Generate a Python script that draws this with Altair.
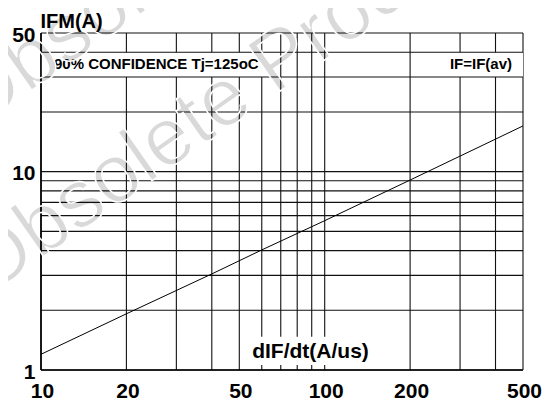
import altair as alt
import pandas as pd

# ---- values ----
DIDT = [10, 20, 40, 60, 100, 200, 500]            # dIF/dt (A/us)
IFM = [1.2, 1.92, 3.05, 4.03, 5.66, 9.07, 17.0]   # IFM (A)

X_GRID = [10, 20, 30, 40, 50, 60, 70, 80, 90, 100, 200, 300, 400, 500]
Y_GRID = [1, 2, 3, 4, 5, 6, 7, 8, 9, 10, 20, 30, 40, 50]
X_TICKS = [10, 20, 50, 100, 200, 500]
Y_TICKS = [1, 10, 50]

X_TITLE = "dIF/dt(A/us)"
Y_TITLE = "IFM(A)"
NOTE_LEFT = "90% CONFIDENCE Tj=125oC"
NOTE_RIGHT = "IF=IF(av)"
WATERMARK = "Obsolete Product"

# ---- annotation placement (data units) ----
BOXES = pd.DataFrame({
    "x1": [10, 265, 52],
    "x2": [68, 500, 150],
    "y1": [30, 30, 1.06],
    "y2": [40, 40, 1.47],
})
NOTE_Y = 34.64
WM = pd.DataFrame({"x": [5.85, 6.45], "y": [16.2, 2.35], "t": [WATERMARK, WATERMARK]})

FONT = "Liberation Sans"

xs = alt.Scale(type="log", domain=[10, 500], nice=False)
ys = alt.Scale(type="log", domain=[1, 50], nice=False)

X_AXIS = alt.Axis(
    values=X_TICKS, format="d", grid=False, domain=False, ticks=False,
    labelFont=FONT, labelFontSize=21, labelFontWeight="bold", labelColor="black",
    labelPadding=10, labelFlush=False, labelOverlap=False, labelOffset=1,
    title=X_TITLE, titleFont=FONT, titleFontSize=21, titleFontWeight="bold",
    titleColor="black", titleX=269, titleY=-13, titleAlign="center",
    titleBaseline="alphabetic", zindex=1,
)
Y_AXIS = alt.Axis(
    values=Y_TICKS, format="d", grid=False, domain=False, ticks=False,
    labelFont=FONT, labelFontSize=21, labelFontWeight="bold", labelColor="black",
    labelPadding=6, labelOverlap=False, labelFlush=False, labelOffset=2,
    title=Y_TITLE, titleFont=FONT, titleFontSize=20, titleFontWeight="bold",
    titleColor="black", titleAngle=0, titleX=-1, titleY=-6, titleAlign="left",
    titleBaseline="alphabetic", zindex=1,
)

df_line = pd.DataFrame({"x": DIDT, "y": IFM})
df_xg = pd.DataFrame({"x": X_GRID})
df_yg = pd.DataFrame({"y": Y_GRID})

vgrid = alt.Chart(df_xg).mark_rule(color="#111111", strokeWidth=1.1).encode(
    x=alt.X("x:Q", scale=xs, axis=X_AXIS))
boxes = alt.Chart(BOXES).mark_rect(color="white").encode(
    x=alt.X("x1:Q", scale=xs, axis=X_AXIS), x2="x2:Q",
    y=alt.Y("y1:Q", scale=ys, axis=Y_AXIS), y2="y2:Q")
hgrid = alt.Chart(df_yg).mark_rule(color="#111111", strokeWidth=1.1).encode(
    y=alt.Y("y:Q", scale=ys, axis=Y_AXIS))
frame_x = alt.Chart(pd.DataFrame({"x": [X_GRID[0]]})).mark_rule(
    color="black", strokeWidth=1.6).encode(x=alt.X("x:Q", scale=xs, axis=X_AXIS))
frame_y = alt.Chart(pd.DataFrame({"y": [Y_GRID[0]]})).mark_rule(
    color="black", strokeWidth=1.6).encode(y=alt.Y("y:Q", scale=ys, axis=Y_AXIS))
line = alt.Chart(df_line).mark_line(color="black", strokeWidth=1).encode(
    x=alt.X("x:Q", scale=xs, axis=X_AXIS), y=alt.Y("y:Q", scale=ys, axis=Y_AXIS))

note_l = alt.Chart(pd.DataFrame({"x": [X_GRID[0]], "y": [NOTE_Y], "t": [NOTE_LEFT]})).mark_text(
    align="left", baseline="alphabetic", dx=13, dy=4, font=FONT, fontSize=15,
    fontWeight="bold", color="black").encode(
    x=alt.X("x:Q", scale=xs, axis=X_AXIS), y=alt.Y("y:Q", scale=ys, axis=Y_AXIS), text="t:N")
note_r = alt.Chart(pd.DataFrame({"x": [X_GRID[-1]], "y": [NOTE_Y], "t": [NOTE_RIGHT]})).mark_text(
    align="right", baseline="alphabetic", dx=-11, dy=4, font=FONT, fontSize=15,
    fontWeight="bold", color="black").encode(
    x=alt.X("x:Q", scale=xs, axis=X_AXIS), y=alt.Y("y:Q", scale=ys, axis=Y_AXIS), text="t:N")

wm = alt.Chart(WM).mark_text(
    align="left", baseline="alphabetic", angle=325, font=FONT, fontSize=82,
    fill="black", fillOpacity=0.15, stroke="white", strokeWidth=1.5).encode(
    x=alt.X("x:Q", scale=xs, axis=X_AXIS), y=alt.Y("y:Q", scale=ys, axis=Y_AXIS), text="t:N")

chart = alt.layer(vgrid, boxes, hgrid, frame_x, frame_y, line, note_l, note_r, wm).properties(
    width=482, height=337,
    autosize=alt.AutoSizeParams(type="none"),
    padding={"left": 33, "top": 25, "right": 29, "bottom": 36},
    background="white",
).configure_view(strokeWidth=0)

chart.save("out.html", embed_options={"renderer": "svg", "actions": False})
